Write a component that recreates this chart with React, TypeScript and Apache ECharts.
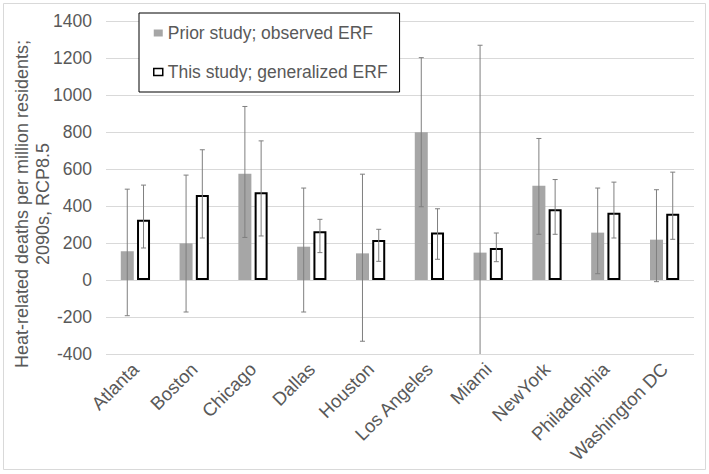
import React, { useEffect, useRef } from "react";
import * as echarts from "echarts";

const categories = ["Atlanta", "Boston", "Chicago", "Dallas", "Houston", "Los Angeles", "Miami", "NewYork", "Philadelphia", "Washington DC"];
const priorValues = [155, 198, 574, 180, 144, 799, 148, 509, 256, 218];
const priorLow = [-193, -173, 230, -173, -331, 396, -400, 247, 34, -9];
const priorHigh = [491, 567, 938, 497, 572, 1202, 1269, 765, 497, 488];
const thisValues = [326, 459, 475, 263, 216, 257, 173, 383, 364, 358];
const thisLow = [173, 227, 238, 148, 101, 112, 99, 247, 227, 220];
const thisHigh = [513, 704, 752, 328, 274, 385, 254, 543, 529, 583];
const seriesNames = ["Prior study; observed ERF", "This study; generalized ERF"];
const yMin = -400;
const yMax = 1400;
const yInterval = 200;
const yTitle = "Heat-related deaths per million residents;\n2090s, RCP8.5";

const BAR_W = 13;
const GAP_RATIO = 0.25;
const OFFSET = (BAR_W + BAR_W * GAP_RATIO) / 2;
const TXT = "#595959";
const FONT = "'Liberation Sans', Arial, sans-serif";

function errorRender(offset: number) {
  return (params: any, api: any) => {
    const i = api.value(0);
    const lo = api.value(1);
    const hi = api.value(2);
    const pLo = api.coord([i, lo]);
    const pHi = api.coord([i, hi]);
    const cx = pLo[0] + offset;
    const style = { stroke: "#7f7f7f", lineWidth: 1 };
    const children: any[] = [
      { type: "line", shape: { x1: cx, y1: pLo[1], x2: cx, y2: pHi[1] }, style },
      { type: "line", shape: { x1: cx - 2.5, y1: pHi[1], x2: cx + 2.5, y2: pHi[1] }, style },
    ];
    if (lo > yMin) {
      children.push({ type: "line", shape: { x1: cx - 2.5, y1: pLo[1], x2: cx + 2.5, y2: pLo[1] }, style });
    }
    return { type: "group", children };
  };
}

export default function App() {
  const ref = useRef<HTMLDivElement>(null);
  useEffect(() => {
    if (!ref.current) return;
    const chart = echarts.init(ref.current, null, { renderer: "svg" });
    chart.setOption({
      animation: false,
      backgroundColor: "#fff",
      textStyle: { fontFamily: FONT },
      grid: { left: 106, right: 15, top: 21, bottom: 120 },
      legend: {
        left: 139,
        top: 13,
        orient: "vertical",
        padding: [10, 12, 10, 14],
        itemGap: 19,
        itemWidth: 9,
        itemHeight: 7,
        borderColor: "#000",
        borderWidth: 1,
        backgroundColor: "#fff",
        textStyle: { fontSize: 17.5, color: TXT, fontFamily: FONT, lineHeight: 20 },
        data: [
          { name: seriesNames[0], icon: "rect" },
          { name: seriesNames[1], icon: "rect", itemStyle: { borderWidth: 1.5 } },
        ],
      },
      xAxis: {
        type: "category",
        data: categories,
        axisLine: { show: false, onZero: false },
        axisTick: { show: false },
        axisLabel: { rotate: 45, fontSize: 18.5, color: TXT, fontFamily: FONT, margin: 12, interval: 0 },
      },
      yAxis: {
        type: "value",
        min: yMin,
        max: yMax,
        interval: yInterval,
        axisLine: { show: false },
        axisTick: { show: false },
        axisLabel: { fontSize: 17.5, color: TXT, fontFamily: FONT, margin: 14, formatter: (v: number) => String(v) },
        splitLine: { lineStyle: { color: "#d9d9d9", width: 1 } },
      },
      graphic: [
        {
          type: "rect",
          shape: { x: 3.5, y: 3.5, width: 702, height: 466 },
          style: { fill: "none", stroke: "#d9d9d9", lineWidth: 1 },
          silent: true,
        },
        {
          type: "text",
          x: 32,
          y: 204,
          rotation: Math.PI / 2,
          style: {
            text: yTitle,
            fontSize: 18,
            fontFamily: FONT,
            fill: TXT,
            align: "center",
            verticalAlign: "middle",
            lineHeight: 21,
          },
        },
      ],
      series: [
        {
          name: seriesNames[0],
          type: "bar",
          data: priorValues,
          barWidth: BAR_W,
          barGap: `${GAP_RATIO * 100}%`,
          itemStyle: { color: "#a6a6a6" },
        },
        {
          name: seriesNames[1],
          type: "bar",
          data: thisValues,
          barWidth: BAR_W,
          itemStyle: { color: "#ffffff", borderColor: "#000000", borderWidth: 2 },
        },
        {
          type: "custom",
          name: "priorErr",
          renderItem: errorRender(-OFFSET),
          data: priorLow.map((l, i) => [i, l, priorHigh[i]]),
          encode: { x: 0, y: [1, 2] },
          z: 5,
          silent: true,
        },
        {
          type: "custom",
          name: "thisErr",
          renderItem: errorRender(OFFSET),
          data: thisLow.map((l, i) => [i, l, thisHigh[i]]),
          encode: { x: 0, y: [1, 2] },
          z: 5,
          silent: true,
        },
      ],
    });
    return () => chart.dispose();
  }, []);
  return (
    <div
      ref={ref}
      style={{ position: "absolute", left: 0, top: 0, width: 709, height: 474, background: "#fff" }}
    />
  );
}
